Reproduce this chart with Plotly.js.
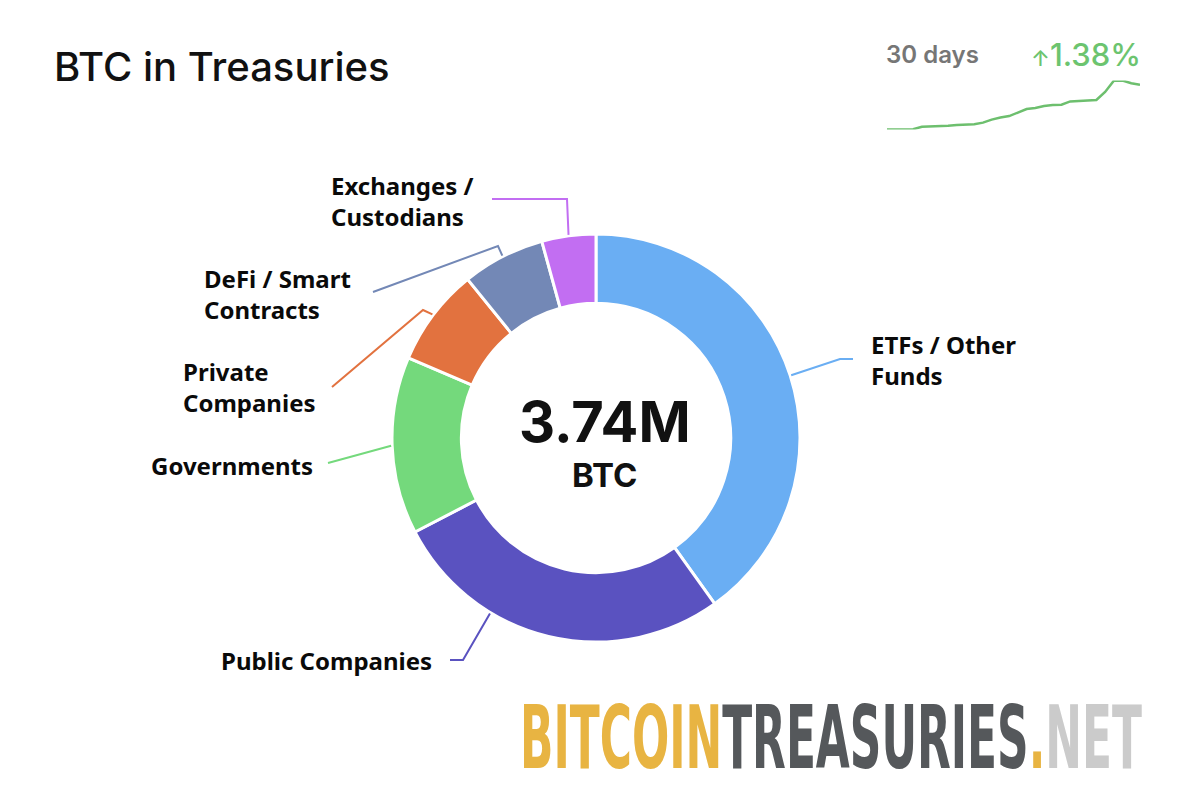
<!DOCTYPE html>
<html>
<head>
<meta charset="utf-8">
<script src="https://cdn.plot.ly/plotly-3.0.1.min.js"></script>
<style>
  html, body { margin: 0; padding: 0; background: #ffffff; }
  #chart { width: 1199px; height: 799px; }
</style>
</head>
<body>
<div id="chart"></div>
<script>
// ---------------- DATA ----------------
const categories = ['ETFs / Other Funds', 'Public Companies', 'Governments', 'Private Companies', 'DeFi / Smart Contracts', 'Exchanges / Custodians'];
const labelTexts = ['ETFs / Other<br>Funds', 'Public Companies', 'Governments', 'Private<br>Companies', 'DeFi / Smart<br>Contracts', 'Exchanges /<br>Custodians'];
const holdingsMillionBTC = [1.50, 1.02, 0.525, 0.29, 0.245, 0.16];
const totalLabel = '3.74M';
const unitLabel = 'BTC';
const sparkDays = [1,2,3,4,5,6,7,8,9,10,11,12,13,14,15,16,17,18,19,20,21,22,23,24,25,26,27,28,29,30];
const sparkValues = [3.6890,3.6891,3.6892,3.6893,3.6922,3.6925,3.6927,3.6934,3.6942,3.6945,3.6949,3.6968,3.7003,3.7026,3.7043,3.7083,3.7124,3.7135,3.7158,3.7170,3.7172,3.7210,3.7219,3.7221,3.7227,3.7319,3.7446,3.7449,3.7417,3.7400];
const sparkPeriod = '30 days';
const sparkChange = '1.38%';

// ---------------- STYLE / LAYOUT ----------------
const W = 1199, H = 799;
const colors = ['#6aaef3', '#5a52c0', '#74d97c', '#e2723f', '#7388b6', '#c26ef2'];
const px = x => x / W;
const py = y => 1 - y / H;
const CX = 596, CY = 438, R = 204;

// label placement (pixels): text left / centre y, elbow, end of leader line, anchor position inside slice span
const labelPlace = [
  {tx: 869, ty: 360, elbow: [840, 359], end: [853, 359], frac: 0.5},
  {tx: 219, ty: 660, elbow: [463, 660], end: [450, 660], frac: 0.68},
  {tx: 149, ty: 465, elbow: [350, 457], end: [328, 463], frac: 0.5},
  {tx: 181, ty: 387, elbow: [423, 310], end: [332, 387], frac: 0.5},
  {tx: 202, ty: 294, elbow: [498, 246], end: [373, 292], frac: 0.5},
  {tx: 329, ty: 201, elbow: [567, 199], end: [492, 199], frac: 0.5}
];

const total = holdingsMillionBTC.reduce((a, b) => a + b, 0);
const shapes = [];
const annotations = [];
let cum = 0;
holdingsMillionBTC.forEach((v, i) => {
  const p = labelPlace[i];
  const ang = (cum + p.frac * v) / total * 2 * Math.PI;
  cum += v;
  const sx = CX + (R + 1) * Math.sin(ang);
  const sy = CY - (R + 1) * Math.cos(ang);
  shapes.push({
    type: 'path', xref: 'paper', yref: 'paper',
    path: `M ${px(sx)} ${py(sy)} L ${px(p.elbow[0])} ${py(p.elbow[1])} L ${px(p.end[0])} ${py(p.end[1])}`,
    line: {color: colors[i], width: 2}
  });
  annotations.push({
    xref: 'paper', yref: 'paper', x: px(p.tx), y: py(p.ty),
    xanchor: 'left', yanchor: 'middle', align: 'left', showarrow: false,
    text: labelTexts[i],
    font: {family: 'Noto Sans, Open Sans, sans-serif', size: 24, color: '#0a0a0a', weight: 700}
  });
});

// centre text
annotations.push({
  xref: 'paper', yref: 'paper', x: px(605), y: py(422), xanchor: 'center', yanchor: 'middle', showarrow: false,
  text: totalLabel, font: {family: 'Inter, sans-serif', size: 56, color: '#111111', weight: 700}
});
annotations.push({
  xref: 'paper', yref: 'paper', x: px(604), y: py(475), xanchor: 'center', yanchor: 'middle', showarrow: false,
  text: unitLabel, font: {family: 'Inter, sans-serif', size: 33, color: '#111111', weight: 700}
});
// sparkline header
annotations.push({
  xref: 'paper', yref: 'paper', x: px(884), y: py(55), xanchor: 'left', yanchor: 'middle', showarrow: false,
  text: sparkPeriod, font: {family: 'Inter, sans-serif', size: 24, color: '#767676', weight: 600}
});
annotations.push({
  xref: 'paper', yref: 'paper', x: px(1143), y: py(55), xanchor: 'right', yanchor: 'middle', showarrow: false,
  text: '<span style="font-size:22px">\u2191</span>' + sparkChange,
  font: {family: 'Inter, sans-serif', size: 31, color: '#6cc46f', weight: 500}
});
// watermark
const wmIndex = annotations.length;
annotations.push({
  xref: 'paper', yref: 'paper', x: px(520), y: py(737), xanchor: 'left', yanchor: 'middle', showarrow: false,
  text: '<span style="color:#e8b442">BITCOIN</span><span style="color:#55585b">TREASURIES</span><span style="color:#e8b442">.</span><span style="color:#cbcbcb">NET</span>',
  font: {family: 'Liberation Sans Narrow, DejaVu Sans Condensed, Liberation Sans, sans-serif', size: 88, weight: 700}
});

const data = [
  {
    type: 'pie',
    labels: categories,
    values: holdingsMillionBTC,
    hole: 0.66,
    sort: false,
    direction: 'clockwise',
    rotation: 0,
    textinfo: 'none',
    hoverinfo: 'label+value+percent',
    marker: {colors: colors, line: {color: '#ffffff', width: 3}},
    domain: {x: [px(CX - R), px(CX + R)], y: [py(CY + R), py(CY - R)]},
    showlegend: false
  },
  {
    type: 'scatter',
    mode: 'lines',
    x: sparkDays,
    y: sparkValues,
    xaxis: 'x',
    yaxis: 'y',
    line: {color: '#6dbf6e', width: 2.5},
    hoverinfo: 'x+y',
    showlegend: false
  }
];

const layout = {
  width: W, height: H,
  margin: {l: 0, r: 0, t: 0, b: 0},
  paper_bgcolor: '#ffffff',
  plot_bgcolor: 'rgba(0,0,0,0)',
  showlegend: false,
  title: {
    text: 'BTC in Treasuries',
    xref: 'paper', yref: 'paper', x: px(54), y: py(67), xanchor: 'left', yanchor: 'middle',
    font: {family: 'Inter, sans-serif', size: 40, color: '#111111', weight: 500}
  },
  xaxis: {domain: [px(887), px(1140)], range: [1, 30], visible: false, fixedrange: true},
  yaxis: {domain: [py(129.5), py(80.5)], range: [3.6890, 3.7449], visible: false, fixedrange: true},
  shapes: shapes,
  annotations: annotations
};

Plotly.newPlot('chart', data, layout, {displayModeBar: false, staticPlot: true}).then(gd => {
  try {
    const t = gd.querySelector('.annotation[data-index="' + wmIndex + '"] text');
    if (t) {
      const r = t.getBoundingClientRect();
      const bb = t.getBBox();
      const s = 622 / r.width;
      const tx = bb.x * (1 - s) + (520 - r.left);
      t.setAttribute('transform', 'translate(' + tx + ',0) scale(' + s + ',1)');
    }
  } catch (e) {}
});
</script>
</body>
</html>
